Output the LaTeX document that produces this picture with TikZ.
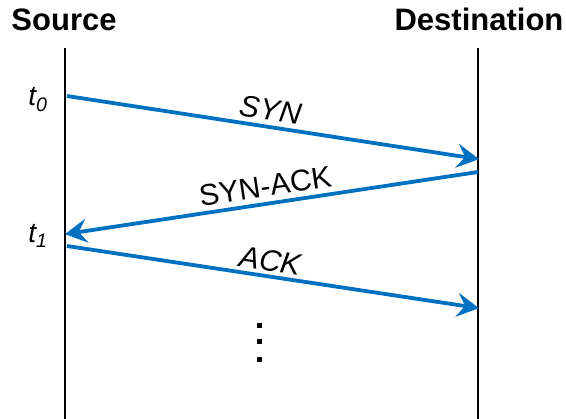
\documentclass[tikz,border=0pt]{standalone}
\usepackage{fontspec}
\setmainfont{Liberation Sans}
\usetikzlibrary{arrows.meta}
\definecolor{msgblue}{RGB}{0,112,192}
\tikzset{
  x=1pt, y=1pt,
  lifeline/.style={line width=2.8pt, black},
  msg/.style={line width=3.8pt, msgblue,
    -{Stealth[length=22pt, width=24pt, inset=8pt]}, shorten >=-1pt},
  msglabel/.style={text=black, sloped, above, inner sep=5pt},
  uplabel/.style={msglabel, font=\fontsize{30}{32}\selectfont},
  itlabel/.style={msglabel, font=\fontsize{30}{32}\selectfont\itshape},
  header/.style={font=\fontsize{31}{33}\selectfont\bfseries, anchor=base},
  timelabel/.style={font=\fontsize{28}{30}\selectfont\itshape, anchor=base east},
  dot/.style={fill=black, minimum size=5pt, inner sep=0pt, draw=none, rectangle}
}
\begin{document}
\begin{tikzpicture}
\useasboundingbox (0,0) rectangle (566,419);

% lifelines
\coordinate (srcTop) at (65,371);
\coordinate (srcBot) at (65,0);
\coordinate (dstTop) at (478,371);
\coordinate (dstBot) at (478,0);
\draw[lifeline] (srcTop) -- (srcBot);
\draw[lifeline] (dstTop) -- (dstBot);

% headers
\node[header] (srcName) at (64,388) {Source};
\node[header] (dstName) at (479,388) {Destination};

% message end points
\coordinate (synA) at (67,323);
\coordinate (synB) at (478,260);
\coordinate (ackSynA) at (478,247);
\coordinate (ackSynB) at (66,185);
\coordinate (ackA) at (67,173);
\coordinate (ackB) at (478,111);

% messages
\draw[msg] (synA) -- node[itlabel, pos=0.49] (synLbl) {SYN} (synB);
\draw[msg] (ackSynA) -- node[uplabel, pos=0.51] (ackSynLbl) {SYN-ACK} (ackSynB);
\draw[msg] (ackA) -- node[itlabel, pos=0.49, inner sep=3pt] (ackLbl) {ACK} (ackB);

% time marks
\node[timelabel] (tZero) at (51,313) {t\textsubscript{0}};
\node[timelabel] (tOne) at (51,176) {t\textsubscript{1}};

% continuation dots
\node[dot] (dotA) at (259,93) {};
\node[dot] (dotB) at (259,77) {};
\node[dot] (dotC) at (259,59) {};
\end{tikzpicture}
\end{document}
